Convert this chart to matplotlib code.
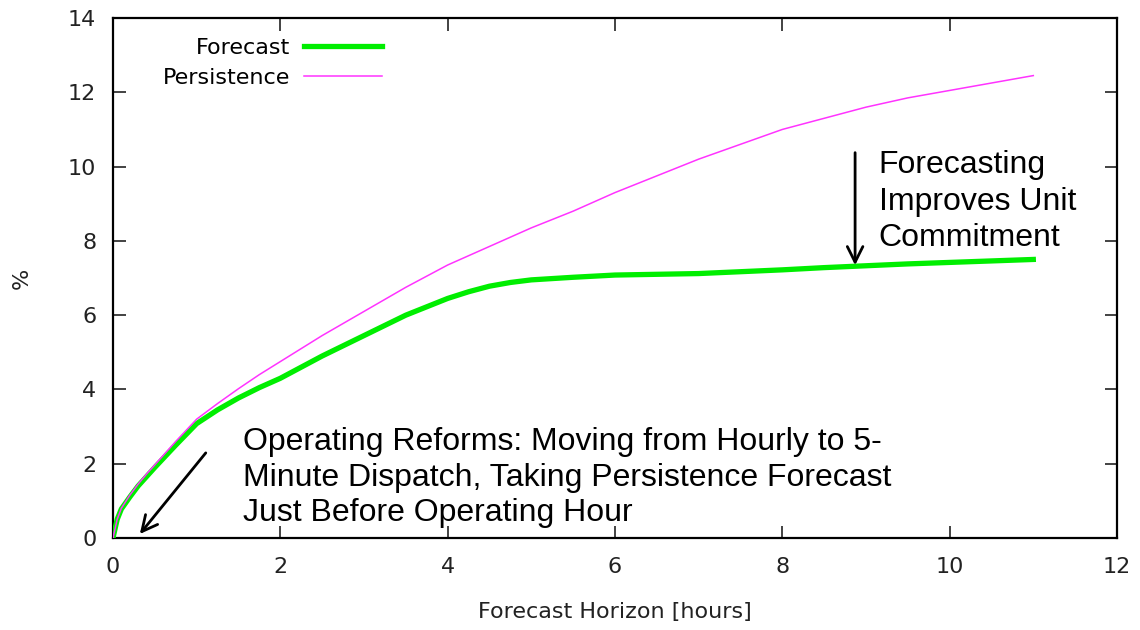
import matplotlib.pyplot as plt

# Forecast horizon (hours) and error (%)
hours = [0, 0.05, 0.1, 0.2, 0.3, 0.4, 0.5, 0.75, 1, 1.25, 1.5, 1.75, 2, 2.5,
         3, 3.5, 4, 4.25, 4.5, 4.75, 5, 5.5, 6, 6.5, 7, 7.5, 8, 8.5, 9, 9.5,
         10, 10.5, 11]
persistence = [0, 0.5, 0.8, 1.15, 1.45, 1.72, 1.97, 2.6, 3.2, 3.62, 4.02,
               4.4, 4.75, 5.45, 6.1, 6.75, 7.35, 7.6, 7.85, 8.1, 8.35, 8.8,
               9.3, 9.75, 10.2, 10.6, 11.0, 11.3, 11.6, 11.85, 12.05, 12.25,
               12.45]
forecast = [0, 0.5, 0.78, 1.1, 1.4, 1.65, 1.9, 2.5, 3.08, 3.45, 3.77, 4.05,
            4.3, 4.9, 5.45, 6.0, 6.45, 6.63, 6.78, 6.88, 6.95, 7.02, 7.08,
            7.1, 7.12, 7.17, 7.22, 7.28, 7.33, 7.38, 7.42, 7.46, 7.5]

xticks = [0, 2, 4, 6, 8, 10, 12]
yticks = [0, 2, 4, 6, 8, 10, 12, 14]

plt.rcParams['font.family'] = 'DejaVu Sans'

fig = plt.figure(figsize=(11.4, 6.3), dpi=100)
ax = fig.add_axes([0.0991, 0.146, 0.8807, 0.8254])

ax.plot(hours, forecast, color='#00ee00', lw=3.8, label='Forecast', zorder=3)
ax.plot(hours, persistence, color='#ff33ff', lw=1.1, label='Persistence', zorder=4)

ax.set_xlim(0, 12)
ax.set_ylim(0, 14)
ax.set_xticks(xticks)
ax.set_yticks(yticks)
ax.tick_params(direction='in', length=9, width=1.2, top=True, right=True,
               labelsize=16, colors='#222222')
ax.tick_params(axis='x', pad=14)
ax.tick_params(axis='y', pad=12)
for s in ax.spines.values():
    s.set_linewidth(1.6)

ax.set_xlabel('Forecast Horizon [hours]', fontsize=16, color='#222222', labelpad=18)
ax.set_ylabel('%', fontsize=16, color='#222222', labelpad=26)

leg = ax.legend(loc='upper left', bbox_to_anchor=(0.03, 1.0), frameon=False,
                markerfirst=False, fontsize=16, handlelength=3.5,
                handletextpad=0.6, labelspacing=0.45)
for t in leg.get_texts():
    t.set_ha('right')

ann_font = dict(family='Liberation Sans', fontsize=23, color='black')

ax.annotate('', xy=(8.87, 7.27), xytext=(8.87, 10.45),
            arrowprops=dict(arrowstyle='->', color='black', lw=2,
                            mutation_scale=28))
ax.text(9.15, 10.45, 'Forecasting\nImproves Unit\nCommitment',
        va='top', ha='left', linespacing=1.29, **ann_font)

ax.annotate('', xy=(0.3, 0.05), xytext=(1.13, 2.35),
            arrowprops=dict(arrowstyle='->', color='black', lw=2,
                            mutation_scale=28))
ax.text(1.55, 2.98, 'Operating Reforms: Moving from Hourly to 5-\n'
        'Minute Dispatch, Taking Persistence Forecast\n'
        'Just Before Operating Hour',
        va='top', ha='left', linespacing=1.23, **ann_font)

fig.savefig('out.png', dpi=100)
